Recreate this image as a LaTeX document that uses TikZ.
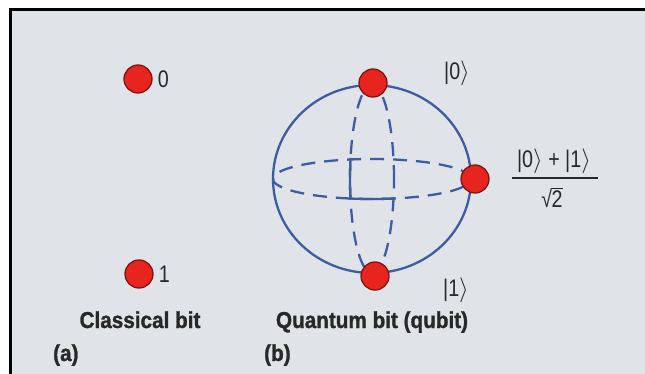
\documentclass[tikz,border=0pt]{standalone}
\usepackage{fontspec}
\setmainfont[FakeStretch=0.9,BoldFeatures={FakeBold=1.2}]{Liberation Sans}
\newfontfamily\condfont[FakeStretch=0.82]{Liberation Sans}
\definecolor{bggray}{RGB}{224,228,232}
\definecolor{dotred}{RGB}{232,36,30}
\definecolor{dotedge}{RGB}{125,22,20}
\definecolor{sphereblue}{RGB}{62,92,162}
\definecolor{txt}{RGB}{40,40,40}
\begin{document}
\begin{tikzpicture}[x=1pt,y=1pt,
  dot/.style={circle,fill=dotred,draw=dotedge,line width=1.3pt,minimum size=28pt,inner sep=0pt},
  sphereline/.style={draw=sphereblue,line width=2.3pt},
  dashline/.style={draw=sphereblue,line width=2.3pt,dash pattern=on 14pt off 9pt},
  lbl/.style={text=txt,font=\fontsize{23}{27}\selectfont\bfseries,inner sep=0pt},
  ket/.style={text=txt,font=\fontsize{24}{28}\selectfont\condfont,inner sep=0pt},
  num/.style={text=txt,font=\fontsize{24}{28}\selectfont\condfont,inner sep=0pt}]
\useasboundingbox (0,0) rectangle (645,373);
\clip (0,0) rectangle (645,373);
\fill[white] (0,0) rectangle (645,373);
\filldraw[fill=bggray,draw=black,line width=2.5pt] (10.5,-20) rectangle (680,363.5);

% classical bit
\node[dot] (c0) at (138,294) {};
\node[dot] (c1) at (139,99) {};
\node[num,anchor=west] (c0l) at ([xshift=5pt]c0.east) {0};
\node[num,anchor=west] (c1l) at ([xshift=5pt]c1.east) {1};

% sphere
\coordinate (o) at (372,194);
\draw[sphereline] (o) ellipse [x radius=99, y radius=94];
\draw[dashline] (o) ellipse [x radius=22, y radius=94];
\draw[dashline] (o) ellipse [x radius=99, y radius=20];
\draw[sphereline] ([shift={(167:22 and 94)}]o) arc [start angle=167, end angle=192, x radius=22, y radius=94];
\draw[sphereline] ([shift={(257:99 and 20)}]o) arc [start angle=257, end angle=283, x radius=99, y radius=20];

\node[dot] (q0) at (373,290) {};
\node[dot] (q1) at (375,97) {};
\node[dot] (qs) at (475,194) {};

\node[ket] (k0) at (457,300) {|0$\rangle$};
\node[ket] (k1) at (456,83) {|1$\rangle$};
\node[num,anchor=base] (fn) at (554,206) {|0$\rangle$ + |1$\rangle$};
\node[num,anchor=base] (fd) at (552,166) {√\kern-0.6pt\vbox{\hrule height 1.4pt\kern1.2pt\hbox{2}}};
\draw[draw=txt,line width=1.8pt] (512,195) -- (598,195);

% captions
\node[lbl,anchor=base] (ca) at (140,45) {Classical bit};
\node[lbl,anchor=base] (cb) at (372,45) {Quantum bit (qubit)};
\node[lbl,anchor=base west] (pa) at (53,12) {(a)};
\node[lbl,anchor=base west] (pb) at (264,12) {(b)};
\end{tikzpicture}
\end{document}
